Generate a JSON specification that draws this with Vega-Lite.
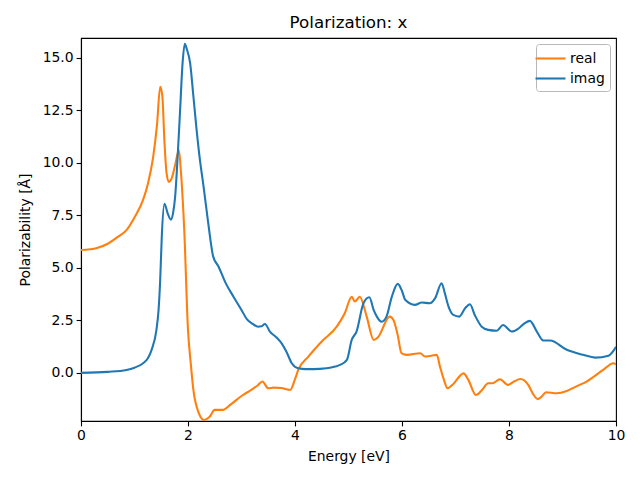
{
  "$schema": "https://vega.github.io/schema/vega-lite/v6.json",
  "width": 535,
  "height": 383,
  "autosize": {"type": "none"},
  "padding": {"left": 81, "top": 38, "right": 24, "bottom": 59},
  "title": {"text": "Polarization: x", "fontSize": 16.7, "fontWeight": "normal", "font": "DejaVu Sans", "color": "black", "offset": 6},
  "datasets": {
    "real": [
      {"E":0,"v":5.85},{"E":0.3,"v":5.95},{"E":0.5,"v":6.15},{"E":0.7,"v":6.5},{"E":0.85,"v":6.8},{"E":1.0,"v":7.4},{"E":1.16,"v":8.24},{"E":1.25,"v":9.0},{"E":1.35,"v":10.3},{"E":1.42,"v":11.8},{"E":1.48,"v":13.63},{"E":1.52,"v":13.2},{"E":1.56,"v":11.0},{"E":1.6,"v":9.5},{"E":1.64,"v":9.1},{"E":1.7,"v":9.3},{"E":1.76,"v":9.9},{"E":1.83,"v":10.6},{"E":1.87,"v":9.5},{"E":1.93,"v":6.8},{"E":2.0,"v":2.05},{"E":2.05,"v":0.5},{"E":2.1,"v":-0.8},{"E":2.2,"v":-1.9},{"E":2.3,"v":-2.24},{"E":2.4,"v":-2.1},{"E":2.5,"v":-1.76},{"E":2.65,"v":-1.76},{"E":2.8,"v":-1.5},{"E":3.0,"v":-1.1},{"E":3.16,"v":-0.84},{"E":3.3,"v":-0.6},{"E":3.39,"v":-0.41},{"E":3.5,"v":-0.73},{"E":3.6,"v":-0.7},{"E":3.75,"v":-0.72},{"E":3.84,"v":-0.78},{"E":3.91,"v":-0.81},{"E":4.0,"v":-0.3},{"E":4.06,"v":0.14},{"E":4.25,"v":0.78},{"E":4.5,"v":1.5},{"E":4.78,"v":2.2},{"E":4.93,"v":2.84},{"E":5.06,"v":3.63},{"E":5.12,"v":3.4},{"E":5.21,"v":3.63},{"E":5.34,"v":2.68},{"E":5.47,"v":1.57},{"E":5.55,"v":1.7},{"E":5.77,"v":2.68},{"E":5.84,"v":2.52},{"E":5.92,"v":1.8},{"E":5.99,"v":0.94},{"E":6.09,"v":0.86},{"E":6.34,"v":0.94},{"E":6.43,"v":0.78},{"E":6.55,"v":0.82},{"E":6.65,"v":0.86},{"E":6.71,"v":0.3},{"E":6.78,"v":-0.3},{"E":6.85,"v":-0.73},{"E":6.95,"v":-0.55},{"E":7.15,"v":-0.02},{"E":7.24,"v":-0.33},{"E":7.38,"v":-1.05},{"E":7.5,"v":-0.8},{"E":7.61,"v":-0.49},{"E":7.69,"v":-0.49},{"E":7.83,"v":-0.3},{"E":7.98,"v":-0.57},{"E":8.1,"v":-0.4},{"E":8.21,"v":-0.29},{"E":8.36,"v":-0.57},{"E":8.45,"v":-1.0},{"E":8.54,"v":-1.25},{"E":8.62,"v":-1.1},{"E":8.69,"v":-0.92},{"E":8.89,"v":-0.97},{"E":9.08,"v":-0.86},{"E":9.25,"v":-0.65},{"E":9.45,"v":-0.41},{"E":9.6,"v":-0.15},{"E":9.76,"v":0.14},{"E":9.95,"v":0.46},{"E":10,"v":0.41}
    ],
    "imag": [
      {"E":0,"v":0.0},{"E":0.5,"v":0.05},{"E":0.85,"v":0.14},{"E":1.0,"v":0.25},{"E":1.16,"v":0.46},{"E":1.25,"v":0.7},{"E":1.32,"v":1.1},{"E":1.41,"v":2.05},{"E":1.45,"v":3.0},{"E":1.48,"v":4.4},{"E":1.51,"v":6.5},{"E":1.56,"v":8.05},{"E":1.62,"v":7.6},{"E":1.68,"v":7.3},{"E":1.72,"v":7.6},{"E":1.76,"v":8.4},{"E":1.8,"v":10.0},{"E":1.85,"v":12.4},{"E":1.9,"v":14.8},{"E":1.94,"v":15.67},{"E":1.98,"v":15.4},{"E":2.04,"v":14.75},{"E":2.1,"v":13.2},{"E":2.16,"v":11.6},{"E":2.22,"v":10.2},{"E":2.29,"v":8.9},{"E":2.38,"v":7.1},{"E":2.47,"v":5.55},{"E":2.57,"v":5.07},{"E":2.7,"v":4.3},{"E":2.85,"v":3.63},{"E":3.0,"v":3.0},{"E":3.1,"v":2.56},{"E":3.2,"v":2.35},{"E":3.31,"v":2.2},{"E":3.37,"v":2.22},{"E":3.44,"v":2.33},{"E":3.53,"v":1.97},{"E":3.65,"v":1.7},{"E":3.75,"v":1.41},{"E":3.84,"v":1.01},{"E":3.94,"v":0.46},{"E":4.06,"v":0.22},{"E":4.2,"v":0.18},{"E":4.34,"v":0.18},{"E":4.59,"v":0.22},{"E":4.75,"v":0.3},{"E":4.84,"v":0.38},{"E":4.97,"v":0.62},{"E":5.06,"v":1.57},{"E":5.15,"v":1.97},{"E":5.28,"v":3.32},{"E":5.39,"v":3.6},{"E":5.47,"v":3.0},{"E":5.53,"v":2.68},{"E":5.62,"v":2.44},{"E":5.71,"v":2.68},{"E":5.81,"v":3.63},{"E":5.92,"v":4.24},{"E":6.0,"v":3.9},{"E":6.06,"v":3.48},{"E":6.24,"v":3.24},{"E":6.37,"v":3.35},{"E":6.52,"v":3.32},{"E":6.62,"v":3.56},{"E":6.74,"v":4.27},{"E":6.8,"v":3.8},{"E":6.87,"v":3.16},{"E":6.96,"v":2.76},{"E":7.07,"v":2.68},{"E":7.18,"v":3.08},{"E":7.27,"v":3.27},{"E":7.36,"v":2.76},{"E":7.49,"v":2.2},{"E":7.61,"v":2.05},{"E":7.77,"v":2.01},{"E":7.89,"v":2.28},{"E":8.05,"v":1.97},{"E":8.17,"v":2.1},{"E":8.29,"v":2.36},{"E":8.39,"v":2.48},{"E":8.52,"v":1.97},{"E":8.64,"v":1.54},{"E":8.77,"v":1.54},{"E":9.08,"v":1.1},{"E":9.39,"v":0.86},{"E":9.61,"v":0.73},{"E":9.86,"v":0.82},{"E":9.94,"v":1.01},{"E":10,"v":1.25}
    ]
  },
  "layer": [
    {
      "data": {"name": "real"},
      "transform": [{"calculate": "'real'", "as": "series"}],
      "mark": {"type": "line", "interpolate": "monotone", "strokeWidth": 2.08, "clip": true},
      "encoding": {
        "x": {"field": "E", "type": "quantitative", "scale": {"domain": [0, 10], "nice": false, "zero": false},
          "axis": {"title": "Energy [eV]", "values": [0, 2, 4, 6, 8, 10], "format": "d", "labelFlush": false, "labelOverlap": false}},
        "y": {"field": "v", "type": "quantitative", "scale": {"domain": [-2.29, 15.95], "nice": false, "zero": false},
          "axis": {"title": "Polarizability [Å]", "values": [0, 2.5, 5, 7.5, 10, 12.5, 15], "format": ".1f", "labelFlush": false, "labelOverlap": false}},
        "color": {"field": "series", "type": "nominal",
          "scale": {"domain": ["real", "imag"], "range": ["#ff7f0e", "#1f77b4"]},
          "legend": {"title": null, "orient": "top-right", "offset": 6, "strokeColor": "#b8b8b8", "fillColor": "white", "cornerRadius": 3, "padding": 5,
            "encode": {"legend": {"update": {"stroke": {"value": "#b8b8b8"}, "strokeWidth": {"value": 1}, "fill": {"value": "white"}, "cornerRadius": {"value": 3}}}}}}
      }
    },
    {
      "data": {"name": "imag"},
      "transform": [{"calculate": "'imag'", "as": "series"}],
      "mark": {"type": "line", "interpolate": "monotone", "strokeWidth": 2.08, "clip": true},
      "encoding": {
        "x": {"field": "E", "type": "quantitative"},
        "y": {"field": "v", "type": "quantitative"},
        "color": {"field": "series", "type": "nominal"}
      }
    }
  ],
  "config": {
    "font": "DejaVu Sans",
    "view": {"stroke": "black", "strokeWidth": 1.1},
    "axis": {
      "grid": false,
      "domainColor": "black",
      "domainWidth": 1.1,
      "tickColor": "black",
      "tickWidth": 1.1,
      "tickSize": 4.9,
      "labelFont": "DejaVu Sans",
      "labelFontSize": 13.9,
      "labelColor": "black",
      "labelPadding": 3,
      "titleFont": "DejaVu Sans",
      "titleFontSize": 13.9,
      "titleFontWeight": "normal",
      "titleColor": "black"
    },
    "axisX": {"titlePadding": 7},
    "axisY": {"titlePadding": 10},
    "legend": {
      "symbolType": "M-1.875,0H1.875",
      "symbolSize": 256,
      "symbolStrokeWidth": 2.08,
      "labelFont": "DejaVu Sans",
      "labelFontSize": 13.9,
      "labelColor": "black",
      "labelOffset": 10,
      "strokeColor": "#b8b8b8",
      "strokeWidth": 1,
      "fillColor": "white",
      "cornerRadius": 3,
      "padding": 5,
      "rowPadding": 3
    }
  }
}
